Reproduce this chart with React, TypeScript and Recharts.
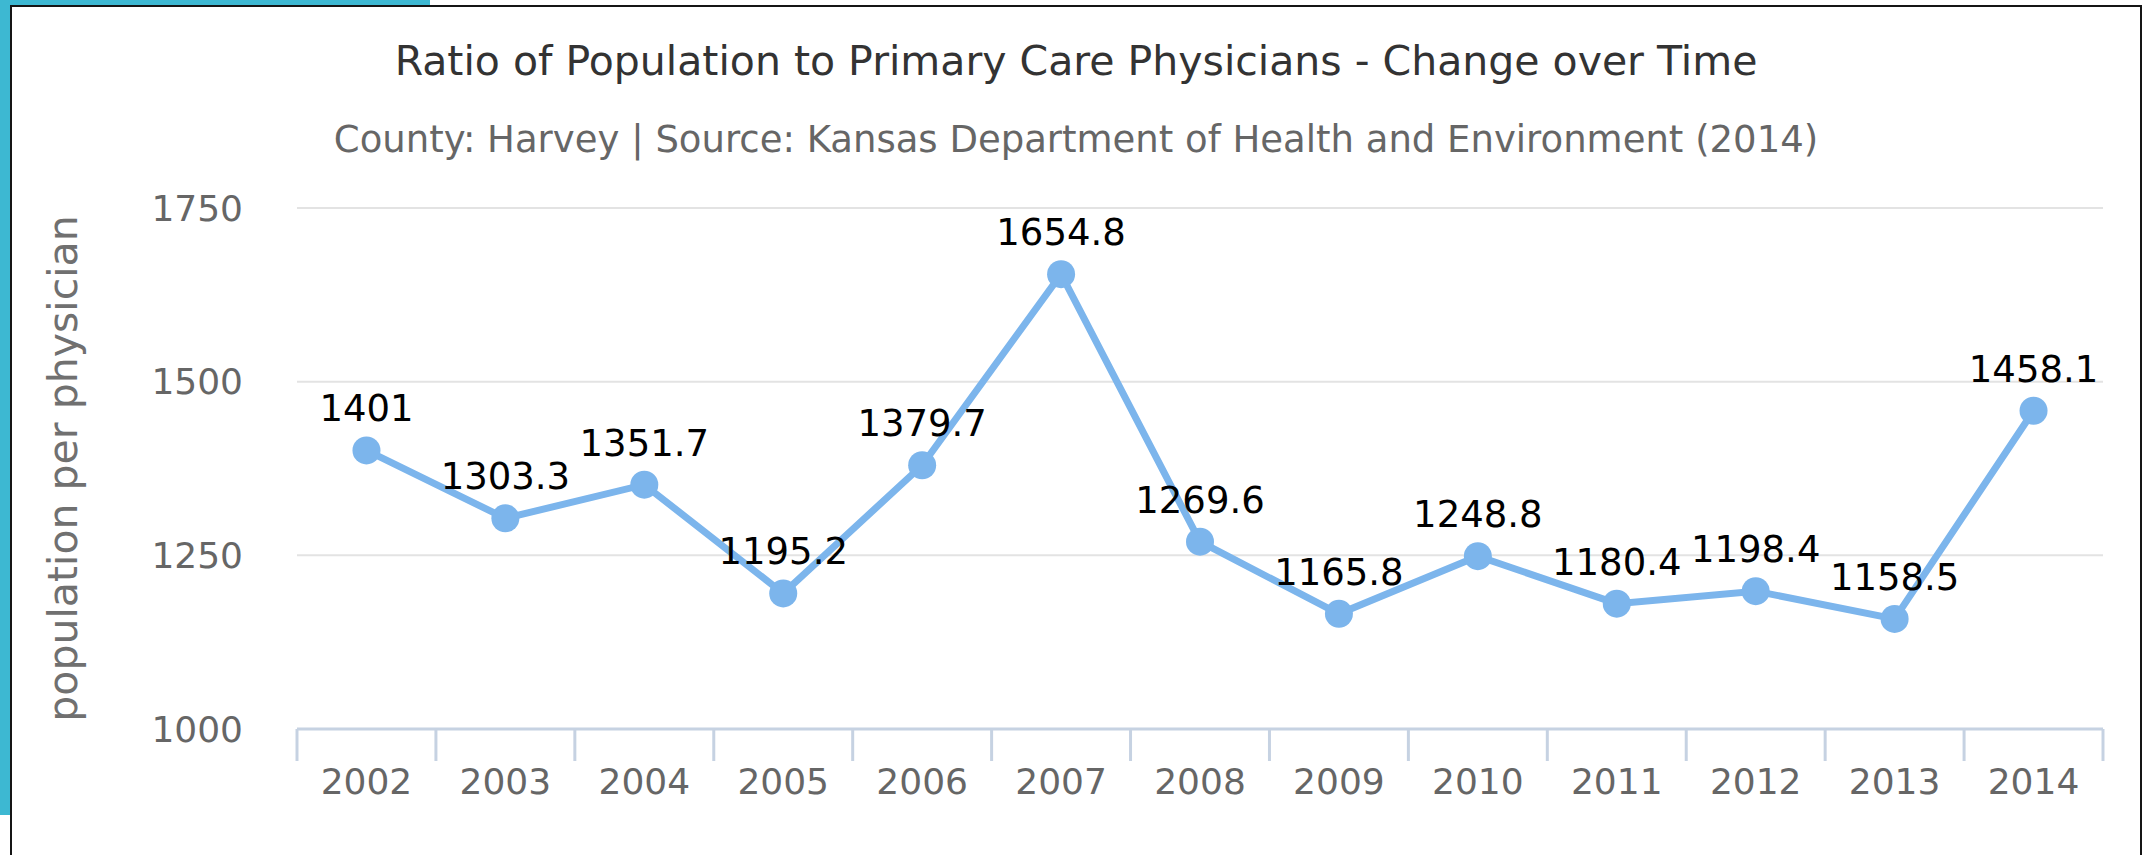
import { LineChart, Line, XAxis, YAxis, CartesianGrid, LabelList, Label } from "recharts";

const years = ["2002", "2003", "2004", "2005", "2006", "2007", "2008", "2009", "2010", "2011", "2012", "2013", "2014"];
const ratios = [1401, 1303.3, 1351.7, 1195.2, 1379.7, 1654.8, 1269.6, 1165.8, 1248.8, 1180.4, 1198.4, 1158.5, 1458.1];
const yTicks = [1000, 1250, 1500, 1750];

const title = "Ratio of Population to Primary Care Physicians - Change over Time";
const subtitle = "County: Harvey | Source: Kansas Department of Health and Environment (2014)";
const yTitle = "population per physician";

const FONT = "'DejaVu Sans', 'Lucida Grande', sans-serif";
const W = 2151;
const H = 855;

const data = years.map((year, i) => ({ idx: i, year, value: ratios[i] }));
const centerTicks = years.map((_, i) => i);
const bandEdges = [...years.map((_, i) => i - 0.5), years.length - 0.5];
const xDomain = [-0.5, years.length - 0.5];

const App = () => {
  return (
    <div style={{ position: "relative", width: W, height: H, background: "#fff", overflow: "hidden", fontFamily: FONT }}>
      <style>{"body{margin:0}"}</style>
      {/* page chrome around the chart */}
      <div style={{ position: "absolute", left: 0, top: 0, width: 430, height: 6, background: "#3db8d2" }} />
      <div style={{ position: "absolute", left: 0, top: 0, width: 10, height: 815, background: "#3db8d2" }} />
      <div
        style={{
          position: "absolute",
          left: 10,
          top: 5,
          width: 2128,
          height: 900,
          border: "2px solid #151515",
        }}
      />
      <svg width={W} height={H} style={{ position: "absolute", left: 0, top: 0 }}>
        <text x={1076} y={75} textAnchor="middle" fontSize={41} fill="#333333" fontFamily={FONT}>
          {title}
        </text>
        <text x={1076} y={152} textAnchor="middle" fontSize={37} fill="#666666" fontFamily={FONT}>
          {subtitle}
        </text>
      </svg>
      <div style={{ position: "absolute", left: 0, top: 0 }}>
        <LineChart width={W} height={H} data={data} margin={{ top: 208, right: 48, bottom: 0, left: 0 }}>
          <CartesianGrid vertical={false} stroke="#e3e3e3" strokeWidth={2} yAxisId="y" xAxisId="cat" />
          {/* axis line and tick marks sit on the category boundaries */}
          <XAxis
            xAxisId="bands"
            type="number"
            dataKey="idx"
            domain={xDomain}
            ticks={bandEdges}
            interval={0}
            height={1}
            tick={() => <g />}
            tickSize={32}
            tickLine={{ stroke: "#c6d2e2", strokeWidth: 3 }}
            axisLine={{ stroke: "#c6d2e2", strokeWidth: 3 }}
          />
          <XAxis
            xAxisId="cat"
            type="number"
            dataKey="idx"
            domain={xDomain}
            ticks={centerTicks}
            interval={0}
            height={125}
            axisLine={false}
            tickLine={false}
            tickSize={0}
            tickMargin={38}
            tickFormatter={(i: number) => years[i]}
            tick={{ fill: "#666666", fontSize: 36, fontFamily: FONT }}
          />
          <YAxis
            yAxisId="y"
            width={297}
            domain={[1000, 1750]}
            ticks={yTicks}
            interval={0}
            axisLine={false}
            tickLine={false}
            tickSize={0}
            tickMargin={54}
            tick={{ fill: "#666666", fontSize: 36, fontFamily: FONT }}
          >
            <Label
              value={yTitle}
              position="insideLeft"
              angle={-90}
              offset={62}
              fill="#707070"
              fontSize={41}
              fontFamily={FONT}
              style={{ textAnchor: "middle" }}
            />
          </YAxis>
          <Line
            xAxisId="cat"
            yAxisId="y"
            type="linear"
            dataKey="value"
            stroke="#7cb5ec"
            strokeWidth={7}
            dot={{ r: 14, fill: "#7cb5ec", stroke: "none" }}
            activeDot={false}
            isAnimationActive={false}
          >
            <LabelList dataKey="value" position="top" offset={29} fill="#000000" fontSize={37} fontFamily={FONT} />
          </Line>
        </LineChart>
      </div>
    </div>
  );
};

export default App;
